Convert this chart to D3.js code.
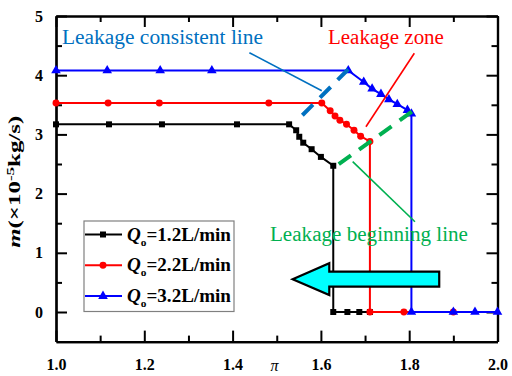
<!DOCTYPE html>
<html>
<head>
<meta charset="utf-8">
<script src="https://cdn.jsdelivr.net/npm/d3@7"></script>
<style>
  body { margin: 0; background: #fff; }
  svg { display: block; }
  text { font-family: "Liberation Serif", "DejaVu Serif", serif; }
</style>
</head>
<body>
<svg id="chart" width="512" height="376"></svg>
<script>
// Leakage mass flow m (x10^-5 kg/s) against pressure ratio pi, for three flow rates
const flowLabels = ["1.2", "2.2", "3.2"];
const seriesColors = ["#000000", "#ff0000", "#0000ff"];

const q12Pi = [1.0, 1.12, 1.24, 1.41, 1.528, 1.544, 1.551, 1.560, 1.579, 1.600, 1.628, 1.628, 1.660, 1.687, 1.711];
const q12M  = [3.17, 3.17, 3.17, 3.17, 3.17, 3.07, 2.96, 2.86, 2.75, 2.62, 2.47, 0, 0, 0, 0];

const q22Pi = [1.0, 1.118, 1.234, 1.482, 1.602, 1.621, 1.632, 1.643, 1.658, 1.675, 1.690, 1.711, 1.711, 1.788, 1.90];
const q22M  = [3.53, 3.53, 3.53, 3.53, 3.53, 3.40, 3.31, 3.24, 3.17, 3.07, 2.97, 2.88, 0, 0, 0];

const q32Pi = [1.0, 1.116, 1.236, 1.353, 1.662, 1.697, 1.716, 1.736, 1.754, 1.773, 1.796, 1.805, 1.805, 1.90, 1.949, 2.0];
const q32M  = [4.08, 4.08, 4.08, 4.08, 4.08, 3.885, 3.77, 3.68, 3.59, 3.51, 3.41, 3.35, 0, 0, 0, 0];

const xTickValues = [1.0, 1.2, 1.4, 1.6, 1.8, 2.0];
const xTickLabels = ["1.0", "1.2", "1.4", "1.6", "1.8", "2.0"];
const xMinorTicks = [1.1, 1.3, 1.5, 1.7, 1.9];
const yTickValues = [0, 1, 2, 3, 4, 5];
const yTickLabels = ["0", "1", "2", "3", "4", "5"];
const yMinorTicks = [0.5, 1.5, 2.5, 3.5, 4.5];

// Annotation geometry, in data units
const consistentLine = [[1.545, 3.226], [1.662, 4.100]];
const beginningLine  = [[1.638, 2.483], [1.806, 3.383]];
const consistentPointer = [[1.438, 4.380], [1.602, 3.738]];
const zonePointer       = [[1.8116, 4.370], [1.702, 3.130]];
const beginningPointer  = [[1.672, 2.539], [1.813, 1.525]];
const arrowOutline = [[1.536, 0.552], [1.619, 0.823], [1.619, 0.681], [1.868, 0.681],
                      [1.868, 0.427], [1.619, 0.427], [1.619, 0.287]];
const notes = [
  { text: "Leakage consistent line", pi: 1.0136, m: 4.527, color: "#0070c0", width: 201 },
  { text: "Leakage zone",            pi: 1.616,  m: 4.527, color: "#ff0000", width: 116 },
  { text: "Leakage beginning line",  pi: 1.4847, m: 1.199, color: "#00b050", width: 198 }
];

const serif = '"Liberation Serif", "DejaVu Serif", serif';
const svg = d3.select("#chart");
const x = d3.scaleLinear().domain([1, 2]).range([56, 497.5]);
const y = d3.scaleLinear().domain([-0.5, 5]).range([341.6, 16]);

const series = [
  { pi: q12Pi, m: q12M, symbol: d3.symbolSquare, size: 36 },
  { pi: q22Pi, m: q22M, symbol: d3.symbolCircle, size: 38 },
  { pi: q32Pi, m: q32M, symbol: d3.symbolTriangle, size: 40 }
].map((s, i) => ({ ...s, label: flowLabels[i], color: seriesColors[i],
                   points: s.pi.map((p, j) => [p, s.m[j]]) }));

// Frame and inward ticks
function styleAxis(g) {
  g.attr("font-family", serif);
  g.select(".domain").attr("stroke", "#000").attr("stroke-width", 2.2);
  g.selectAll(".tick line").attr("stroke", "#000").attr("stroke-width", 2);
  g.selectAll(".tick text")
    .attr("font-family", serif)
    .attr("font-weight", "bold").attr("font-size", 16).attr("fill", "#000");
}
const frameBottom = y(-0.5), frameTop = y(5), frameLeft = x(1), frameRight = x(2);

svg.append("g").attr("transform", `translate(0,${frameBottom})`)
  .call(d3.axisBottom(x).tickValues(xTickValues).tickSize(-11).tickSizeOuter(0).tickPadding(17)
    .tickFormat((d, i) => xTickLabels[i])).call(styleAxis);
svg.append("g").attr("transform", `translate(0,${frameBottom})`)
  .call(d3.axisBottom(x).tickValues(xMinorTicks).tickSize(-6).tickSizeOuter(0).tickFormat("")).call(styleAxis);
svg.append("g").attr("transform", `translate(0,${frameTop})`)
  .call(d3.axisTop(x).tickValues(xTickValues).tickSize(-11).tickSizeOuter(0).tickFormat("")).call(styleAxis);
svg.append("g").attr("transform", `translate(0,${frameTop})`)
  .call(d3.axisTop(x).tickValues(xMinorTicks).tickSize(-6).tickSizeOuter(0).tickFormat("")).call(styleAxis);
svg.append("g").attr("transform", `translate(${frameLeft},0)`)
  .call(d3.axisLeft(y).tickValues(yTickValues).tickSize(-11).tickSizeOuter(0).tickPadding(13)
    .tickFormat((d, i) => yTickLabels[i])).call(styleAxis);
svg.append("g").attr("transform", `translate(${frameLeft},0)`)
  .call(d3.axisLeft(y).tickValues(yMinorTicks).tickSize(-6).tickSizeOuter(0).tickFormat("")).call(styleAxis);
svg.append("g").attr("transform", `translate(${frameRight},0)`)
  .call(d3.axisRight(y).tickValues(yTickValues).tickSize(-11).tickSizeOuter(0).tickFormat("")).call(styleAxis);
svg.append("g").attr("transform", `translate(${frameRight},0)`)
  .call(d3.axisRight(y).tickValues(yMinorTicks).tickSize(-6).tickSizeOuter(0).tickFormat("")).call(styleAxis);

// Axis titles
svg.append("text").attr("x", x(1.495)).attr("y", 371).attr("text-anchor", "middle")
  .attr("font-family", serif).attr("font-style", "italic").attr("font-size", 16).text("π");
const yTitle = svg.append("text").attr("transform", `translate(20,${y(2.2)}) rotate(-90)`)
  .attr("text-anchor", "middle").attr("font-family", serif)
  .attr("font-size", 16).attr("font-weight", "bold")
  .attr("textLength", 132).attr("lengthAdjust", "spacingAndGlyphs");
yTitle.append("tspan").attr("font-style", "italic").text("m");
yTitle.append("tspan").text("(×10");
yTitle.append("tspan").attr("font-size", 11).attr("dy", -6).text("-5");
yTitle.append("tspan").attr("dy", 6).text("kg/s)");

// Data lines and markers
const line = d3.line().x(d => x(d[0])).y(d => y(d[1]));
series.forEach(s => {
  svg.append("path").attr("d", line(s.points)).attr("fill", "none")
    .attr("stroke", s.color).attr("stroke-width", 2);
  svg.append("g").selectAll("path").data(s.points).join("path")
    .attr("transform", d => `translate(${x(d[0])},${y(d[1])})`)
    .attr("d", d3.symbol(s.symbol, s.size)).attr("fill", s.color);
});

// Annotation lines
const seg = d3.line().x(d => x(d[0])).y(d => y(d[1]));
svg.append("path").attr("d", seg(consistentLine.slice().reverse())).attr("stroke", "#0070c0")
  .attr("stroke-width", 4).attr("stroke-dasharray", "15 10").attr("fill", "none");
svg.append("path").attr("d", seg(beginningLine.slice().reverse())).attr("stroke", "#00b050")
  .attr("stroke-width", 4).attr("stroke-dasharray", "15 10").attr("fill", "none");
[[consistentPointer, "#0070c0"], [zonePointer, "#ff0000"], [beginningPointer, "#00b050"]]
  .forEach(([pts, c]) => svg.append("path").attr("d", seg(pts)).attr("stroke", c)
    .attr("stroke-width", 1.6).attr("fill", "none"));

notes.forEach(n => svg.append("text").attr("x", x(n.pi)).attr("y", y(n.m))
  .attr("font-family", serif).attr("font-size", 20.5).attr("fill", n.color)
  .attr("textLength", n.width).attr("lengthAdjust", "spacingAndGlyphs").text(n.text));

// Direction arrow
svg.append("path").attr("d", seg(arrowOutline) + "Z").attr("fill", "#00ffff")
  .attr("stroke", "#000").attr("stroke-width", 2.2).attr("stroke-linejoin", "miter");

// Legend
const lg = svg.append("g");
lg.append("rect").attr("x", 84).attr("y", 221).attr("width", 150).attr("height", 90.5)
  .attr("fill", "#fff").attr("stroke", "#808080").attr("stroke-width", 1.2);
series.forEach((s, i) => {
  const cy = 234.5 + i * 30.8;
  lg.append("line").attr("x1", 85).attr("x2", 122).attr("y1", cy).attr("y2", cy)
    .attr("stroke", s.color).attr("stroke-width", 2);
  lg.append("path").attr("transform", `translate(103,${cy})`)
    .attr("d", d3.symbol(s.symbol, s.size)).attr("fill", s.color);
  const t = lg.append("text").attr("x", 127).attr("y", cy + 6).attr("font-family", serif)
    .attr("font-size", 18.5).attr("font-weight", "bold")
    .attr("textLength", 104).attr("lengthAdjust", "spacingAndGlyphs");
  t.append("tspan").attr("font-style", "italic").text("Q");
  t.append("tspan").attr("font-size", 11).attr("dy", 5).text("o");
  t.append("tspan").attr("dy", -5).text(`=${s.label}L/min`);
});
</script>
</body>
</html>
